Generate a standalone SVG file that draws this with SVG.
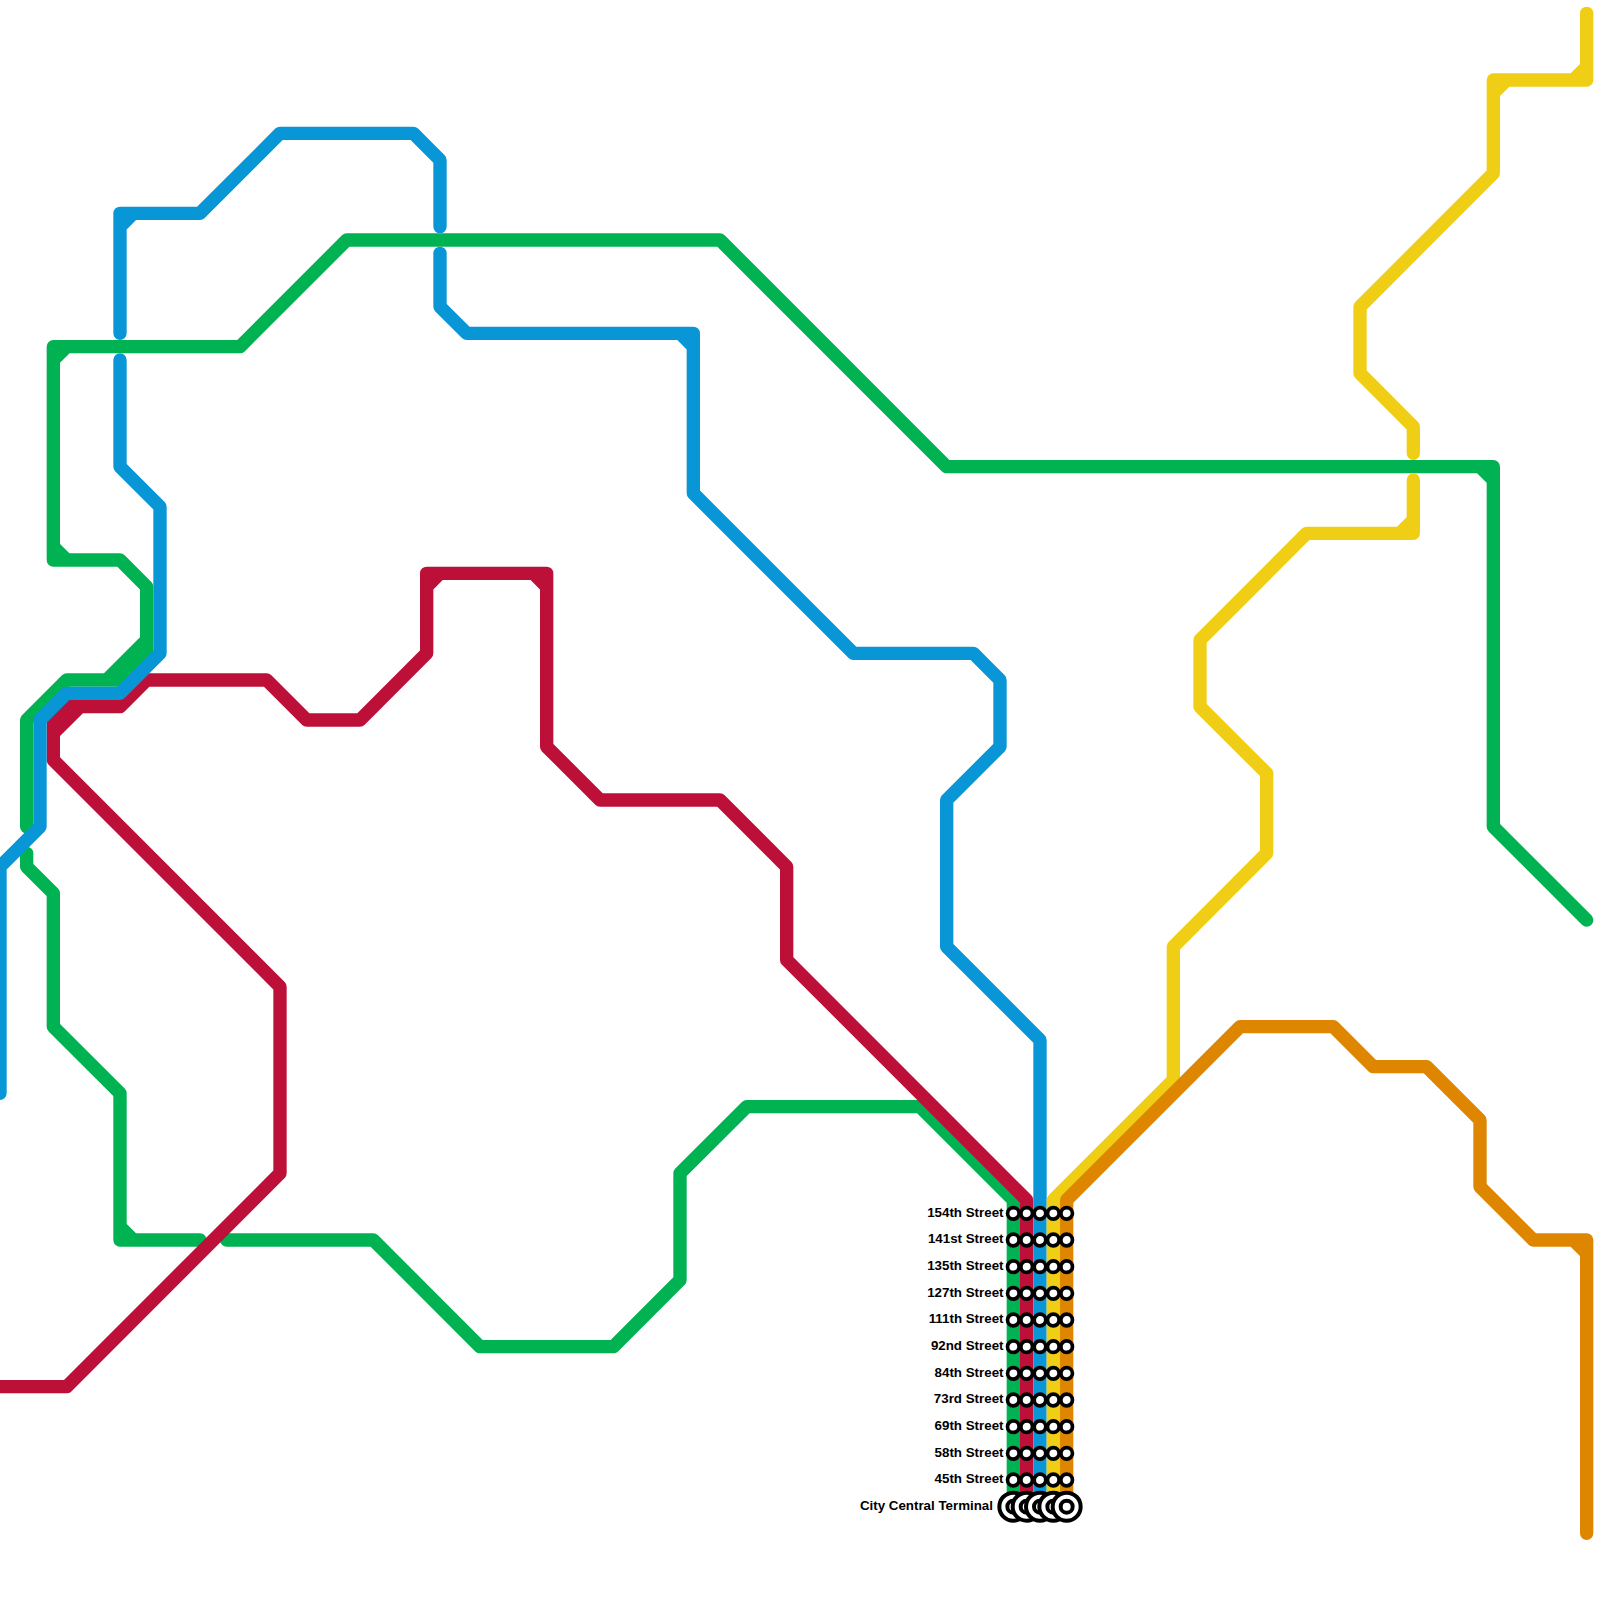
<svg xmlns="http://www.w3.org/2000/svg" width="1600" height="1600" viewBox="0 0 1600 1600">
<style>
.line{fill:none;stroke-width:1;stroke-linecap:round;stroke-linejoin:round}
.green{stroke:#00b251}.red{stroke:#bd1038}.blue{stroke:#0896d7}.yellow{stroke:#f0ce15}.orange{stroke:#df8600}
.st{fill:#fff;stroke:#000;stroke-width:3.7}
.big{fill:#fff;stroke:#000;stroke-width:4}
.lbl{font-family:"Liberation Sans",Arial,sans-serif;font-weight:700;font-size:13.33px;fill:#000;text-anchor:end}
</style>
<defs>
<g id="stops"><circle class="st" cx="1013.33" cy="0" r="5.8"/><circle class="st" cx="1026.67" cy="0" r="5.8"/><circle class="st" cx="1040" cy="0" r="5.8"/><circle class="st" cx="1053.33" cy="0" r="5.8"/><circle class="st" cx="1066.67" cy="0" r="5.8"/></g>
<g id="term"><circle class="big" cy="0" r="14"/><circle class="big" cy="0" r="6"/></g>
</defs>
<rect width="1600" height="1600" fill="#fff"/>
<g id="connectors" transform="scale(13.33333)">
<path id="line-green" class="line green" d="M76 113V90L69 83H56L51 88V96L46 101H36L28 93H17M15 93H9V82L4 77V67L2 65V64M2 62V54L5 51H9L11 49V44L9 42H4V26H18L26 18H54L71 35H112V62L119 69M8 51L11 48M4 41L5 42M4 27L5 26M9 92L10 93M111 35L112 36"/>
<path id="line-red" class="line red" d="M77 113V90L59 72V65L54 60H45L41 56V43H32V49L27 54H23L20 51H11L9 53H5L4 54V57L21 74V88L5 104H0M6 53L4 55M32 44L33 43M40 43L41 44"/>
<path id="line-blue" class="line blue" d="M78 113V78L71 71V60L75 56V51L73 49H64L52 37V25H35L33 23V19M33 17V12L31 10H21L15 16H9V25M9 27V35L12 38V49L9 52H5L3 54V62L0 65V82M51 25L52 26M9 17L10 16"/>
<path id="line-yellow" class="line yellow" d="M79 113V90L88 81V71L95 64V58L90 53V48L98 40H106V36M106 34V32L102 28V23L112 13V6H119V1M105 40L106 39M112 7L113 6M118 6L119 5"/>
<path id="line-orange" class="line orange" d="M80 113V90L93 77H100L103 80H107L111 84V89L115 93H119V115M118 93L119 94"/>
</g>
<g id="station-154"><text class="lbl" x="1003.5" y="1216.5">154th Street</text><use href="#stops" y="1213.33"/></g>
<g id="station-141"><text class="lbl" x="1003.5" y="1243">141st Street</text><use href="#stops" y="1240"/></g>
<g id="station-135"><text class="lbl" x="1003.5" y="1269.8">135th Street</text><use href="#stops" y="1266.67"/></g>
<g id="station-127"><text class="lbl" x="1003.5" y="1296.5">127th Street</text><use href="#stops" y="1293.33"/></g>
<g id="station-111"><text class="lbl" x="1003.5" y="1323">111th Street</text><use href="#stops" y="1320"/></g>
<g id="station-92"><text class="lbl" x="1003.5" y="1349.8">92nd Street</text><use href="#stops" y="1346.67"/></g>
<g id="station-84"><text class="lbl" x="1003.5" y="1376.5">84th Street</text><use href="#stops" y="1373.33"/></g>
<g id="station-73"><text class="lbl" x="1003.5" y="1403">73rd Street</text><use href="#stops" y="1400"/></g>
<g id="station-69"><text class="lbl" x="1003.5" y="1429.8">69th Street</text><use href="#stops" y="1426.67"/></g>
<g id="station-58"><text class="lbl" x="1003.5" y="1456.5">58th Street</text><use href="#stops" y="1453.33"/></g>
<g id="station-45"><text class="lbl" x="1003.5" y="1483">45th Street</text><use href="#stops" y="1480"/></g>
<g id="station-terminal"><text class="lbl" x="993" y="1509.8">City Central Terminal</text>
<use href="#term" x="1013.33" y="1506.67"/><use href="#term" x="1026.67" y="1506.67"/><use href="#term" x="1040" y="1506.67"/><use href="#term" x="1053.33" y="1506.67"/><use href="#term" x="1066.67" y="1506.67"/></g>
</svg>
